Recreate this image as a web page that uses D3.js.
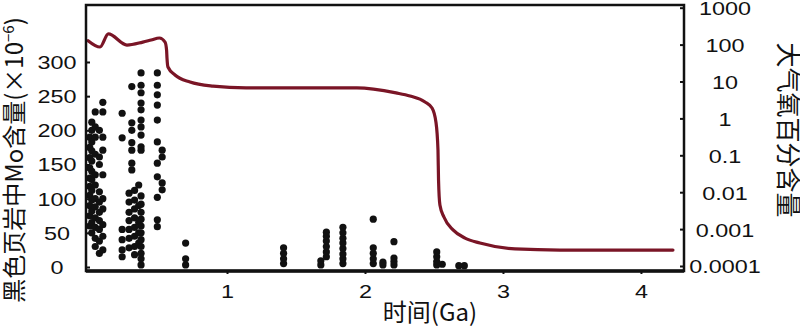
<!DOCTYPE html>
<html><head><meta charset="utf-8">
<script src="https://cdn.jsdelivr.net/npm/d3@7"></script>
<style>body{margin:0;background:#fff}</style></head>
<body><svg id="c" width="800" height="327"></svg>
<script>
// ---- data ----
const ageTicks = [1, 2, 3, 4];
const moTicks = [0, 50, 100, 150, 200, 250, 300];
const o2Ticks = [0.0001, 0.001, 0.01, 0.1, 1, 10, 100, 1000];
const o2TickLabels = ["0.0001", "0.001", "0.01", "0.1", "1", "10", "100", "1000"];

// Mo in black shale (ppm): sample columns by age (Ga)
const moColAges = [0.005, 0.02, 0.045, 0.075, 0.1, 0.24, 0.29, 0.31, 0.33, 0.36, 0.377, 0.495, 0.53,
                   0.70, 1.41, 1.68, 1.72, 1.84, 2.06, 2.13, 2.21, 2.52, 2.56, 2.68, 2.72];
const moColValues = [
  [60, 75, 90, 105, 118, 130, 145, 160, 175, 190],
  [50, 65, 82, 98, 112, 128, 140, 155, 170, 183, 200, 212],
  [30, 42, 58, 72, 88, 100, 120, 135, 165, 190, 205, 227],
  [20, 38, 55, 68, 80, 95, 110, 150, 161, 200],
  [25, 45, 62, 85, 100, 135, 171, 190, 227, 241],
  [15, 25, 40, 55, 189, 225],
  [28, 42, 55, 68, 80, 95, 108],
  [142, 152, 171, 182, 200, 211, 264],
  [18, 30, 45, 58, 72, 85, 98, 112],
  [35, 50, 65, 90, 120],
  [3, 12, 20, 30, 40, 50, 60, 70, 80, 92, 104, 171, 176, 193, 205, 215, 230, 240, 255, 266, 284],
  [59, 69, 102, 132, 152, 183, 215, 237, 252, 266, 284],
  [113, 123, 161, 171],
  [3, 12, 35],
  [5, 12, 20, 28],
  [3, 9],
  [15, 22, 30, 38, 45, 51],
  [5, 12, 19, 27, 35, 42, 50, 58],
  [5, 12, 20, 28, 70],
  [3, 7],
  [3, 8, 13, 37],
  [3, 8, 15, 22],
  [4],
  [2],
  [2]
];

// atmospheric O2 (% of present) through time
const o2Age = [-0.007, 0.08, 0.14, 0.275, 0.39, 0.45, 0.51, 0.551, 0.562, 0.565, 0.572, 0.623, 0.732, 0.899,
               1.138, 1.942, 2.225, 2.326, 2.435, 2.486, 2.514, 2.529, 2.533, 2.543, 2.572, 2.638, 2.725,
               2.833, 3.087, 3.413, 4.232];
const o2Pct = [128, 86, 194, 97, 117, 133, 151, 117, 71, 43, 24.7, 15, 9.7, 7.5,
               6.7, 6.7, 4.9, 4.05, 2.78, 1.91, 0.80, 0.139, 0.0214, 0.0045, 0.00213, 0.00095, 0.00057,
               0.00042, 0.00029, 0.00027, 0.00027];

// ---- drawing ----
const svg = d3.select('#c');
const L = 86, R = 684, T = 5, B = 271;
const x = d3.scaleLinear().domain([-0.022, 4.312]).range([L, R]);
const yL = d3.scaleLinear().domain([-5.85, 383.4]).range([B, T]);
const yR = d3.scaleLog().domain([7.32e-5, 1183]).range([B, T]);
const tickFont = "'Liberation Sans', Arial, sans-serif";
const cjkFont = "'Noto Sans CJK SC', 'Liberation Sans', sans-serif";

// dots
const pts = moColAges.flatMap((a, i) => moColValues[i].map(v => ({a, v})));
svg.append('g').selectAll('circle').data(pts).join('circle')
  .attr('cx', d => x(d.a)).attr('cy', d => yL(d.v)).attr('r', 3.6).attr('fill', '#111');

// O2 curve
const line = d3.line().x(d => x(d[0])).y(d => yR(d[1])).curve(d3.curveMonotoneX);
svg.append('path').datum(o2Age.map((a, i) => [a, o2Pct[i]]))
  .attr('d', line).attr('fill', 'none').attr('stroke', '#7a1526').attr('stroke-width', 3.2)
  .attr('stroke-linejoin', 'round').attr('stroke-linecap', 'round');

// frame
svg.append('rect').attr('x', L).attr('y', T).attr('width', R - L).attr('height', B - T)
  .attr('fill', 'none').attr('stroke', '#111').attr('stroke-width', 2.5);
svg.append('line').attr('x1', L).attr('x2', R).attr('y1', B).attr('y2', B)
  .attr('stroke', '#111').attr('stroke-width', 3.5);

function styleAxis(g) {
  g.select('.domain').remove();
  g.attr('font-family', tickFont).attr('font-size', 18);
  g.selectAll('.tick line').attr('stroke', '#111').attr('stroke-width', 2);
  g.selectAll('.tick text').attr('fill', '#111');
}

// left axis
const gL = svg.append('g').attr('transform', `translate(${L},0)`)
  .call(d3.axisLeft(yL).tickValues(moTicks).tickSize(-4).tickFormat(d3.format('d')));
styleAxis(gL);
gL.selectAll('.tick text').attr('x', 0).attr('text-anchor', 'middle')
  .attr('transform', 'translate(-29,0.7) scale(1.3,1)');

// right axis
const gR = svg.append('g').attr('transform', `translate(${R},0)`)
  .call(d3.axisRight(yR).tickValues(o2Ticks).tickSize(-4).tickFormat((d, i) => o2TickLabels[i]));
styleAxis(gR);
gR.selectAll('.tick text').attr('x', 0).attr('text-anchor', 'middle')
  .attr('transform', 'translate(41,1.2) scale(1.3,1)');

// bottom axis
const gB = svg.append('g').attr('transform', `translate(0,${B})`)
  .call(d3.axisBottom(x).tickValues(ageTicks).tickSize(3).tickFormat(d3.format('d')));
styleAxis(gB);
gB.selectAll('.tick text').attr('y', 0).attr('dy', '0.32em').attr('text-anchor', 'middle')
  .attr('transform', 'translate(0,21) scale(1.3,1)');

// x title
svg.append('text').attr('x', 430).attr('y', 321).attr('text-anchor', 'middle')
  .attr('font-family', cjkFont).attr('font-size', 24).attr('fill', '#111').text('时间(Ga)');

// left title
const lt = svg.append('text').attr('transform', 'translate(23,160) rotate(-90)')
  .attr('text-anchor', 'middle').attr('font-family', cjkFont).attr('font-size', 24).attr('fill', '#111');
lt.append('tspan').text('黑色页岩中Mo含量(×10');
lt.append('tspan').attr('dy', -9).attr('font-size', 15).text('−6');
lt.append('tspan').attr('dy', 9).text(')');

// right title
svg.append('text').attr('transform', 'translate(779,130) rotate(90)')
  .attr('text-anchor', 'middle').attr('font-family', cjkFont).attr('font-size', 25).attr('fill', '#111')
  .text('大气氧百分含量');
</script></body></html>
